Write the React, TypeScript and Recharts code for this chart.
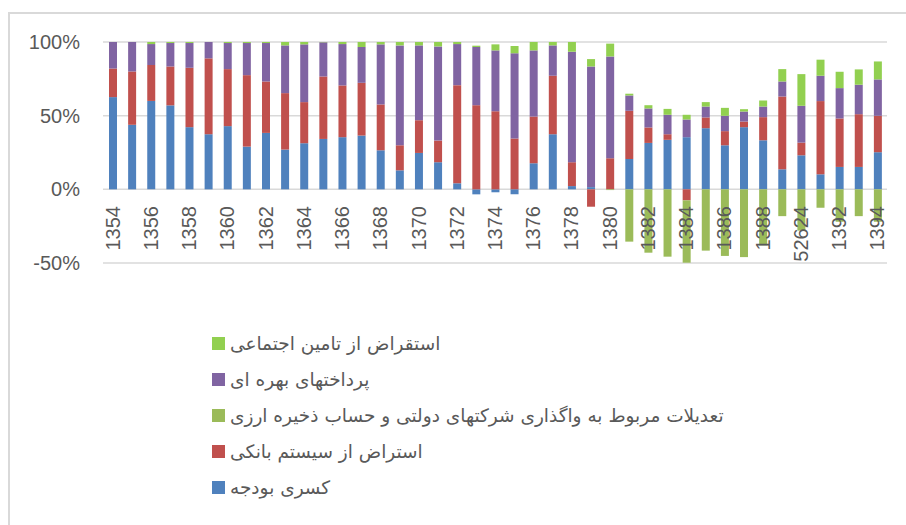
import React from 'react';
import { BarChart, Bar, XAxis, YAxis, CartesianGrid, Legend } from 'recharts';

// سال‌ها (1390 appears as 52624 in the source chart)
const years = [
  '1354', '1355', '1356', '1357', '1358', '1359', '1360', '1361', '1362', '1363',
  '1364', '1365', '1366', '1367', '1368', '1369', '1370', '1371', '1372', '1373',
  '1374', '1375', '1376', '1377', '1378', '1379', '1380', '1381', '1382', '1383',
  '1384', '1385', '1386', '1387', '1388', '1389', '52624', '1391', '1392', '1393',
  '1394',
];

// shares in percent
const budgetDeficit = [
  62.6, 43.8, 60, 57, 42.2, 37.4, 42.9, 29, 38.3, 27,
  31.3, 34.2, 35.4, 36.5, 26.5, 12.9, 24.7, 18.4, 4.1, -3.4,
  -2, -3.4, 17.7, 37.4, 2.2, 1.5, 0, 20.6, 31.5, 33.6,
  35.4, 41.5, 29.9, 42.2, 33.3, 13.6, 23.1, 10.2, 15.2, 15.2,
  25.2,
];
const bankBorrowing = [
  19.4, 36.2, 24.4, 26.4, 40.3, 51.5, 38.7, 48.5, 34.9, 38.3,
  27.9, 42.4, 35.1, 35.8, 31.1, 17, 22.2, 14.7, 66.6, 57.1,
  53, 34.5, 31.7, 39.7, 16.2, -11.8, 21.1, 32.7, 10.5, 3.8,
  -7.5, 7.3, 9.6, 3.8, 15.7, 49.4, 8.6, 49.7, 32.9, 35.8,
  24.7,
];
const adjustments = [
  0, 0, 0, 0, 0, 0, 0, 0, 0, 0,
  0, 0, 0, 0, 0, 0, 0, 0, 0, 0,
  0, 0, 0, 0, 0, 0, -0.5, -35.5, -43, -45.7,
  -42.3, -41.6, -45.2, -46, -38, -18.2, -28, -12.5, -22, -18.2,
  -22,
];
const interestPayments = [
  18, 20, 14.2, 15.9, 16.8, 11.1, 17.7, 21.8, 26.1, 32.4,
  39.2, 23.2, 28.1, 24.3, 40.8, 67.8, 50.8, 63.9, 27.9, 39.5,
  41.3, 57.8, 44.9, 20.6, 75, 81.9, 69.1, 10.4, 12.9, 13.2,
  12, 7.4, 10.4, 6.8, 7.2, 10.2, 25, 17.2, 20.6, 20,
  24.7,
];
const socialSecurity = [
  0, 0, 1.4, 0.7, 0.7, 0, 0.7, 0.7, 0.7, 2.3,
  1.6, 0.2, 1.4, 3.4, 1.6, 2.3, 2.3, 3, 1.4, 0.9,
  4.1, 5, 5.7, 2.3, 6.6, 5, 8.7, 1.2, 2.2, 4,
  3.2, 3, 5.4, 1.6, 4.1, 8.4, 21.5, 10.9, 11.1, 10.4,
  12.2,
];

const yTicks = [-50, 0, 50, 100];

const series = [
  { key: 'deficit', name: 'کسری بودجه', color: '#4F81BD' },
  { key: 'bank', name: 'استراض از سیستم بانکی', color: '#C0504D' },
  { key: 'adjust', name: 'تعدیلات مربوط به واگذاری شرکتهای دولتی و حساب ذخیره ارزی', color: '#9BBB59' },
  { key: 'interest', name: 'پرداختهای بهره ای', color: '#8064A2' },
  { key: 'social', name: 'استقراض از تامین اجتماعی', color: '#92D050' },
];

const data = years.map((label, i) => ({
  label,
  deficit: budgetDeficit[i],
  bank: bankBorrowing[i],
  adjust: adjustments[i],
  interest: interestPayments[i],
  social: socialSecurity[i],
}));

const axisFont = '"Liberation Sans", Arial, sans-serif';

const YearTick = (props: any) => {
  const { x, payload } = props;
  return (
    <text
      x={x}
      y={206}
      dy="0.35em"
      transform={`rotate(-90, ${x}, 206)`}
      textAnchor="end"
      fill="#595959"
      fontSize={20}
      fontFamily={axisFont}
    >
      {payload.value}
    </text>
  );
};

const LegendBox = () => (
  <div style={{ fontFamily: '"DejaVu Sans", sans-serif', fontSize: 18.5, color: '#595959' }}>
    {[...series].reverse().map(s => (
      <div key={s.key} style={{ display: 'flex', alignItems: 'center', height: 35.8 }}>
        <span style={{ width: 13, height: 13, background: s.color, marginRight: 5, flex: 'none' }} />
        <span dir="rtl" style={{ whiteSpace: 'nowrap' }}>{s.name}</span>
      </div>
    ))}
  </div>
);

export default function App() {
  return (
    <div style={{ position: 'absolute', left: 0, top: 0, width: 906, height: 525, background: '#fff', overflow: 'hidden' }}>
      <div
        style={{
          position: 'absolute',
          left: 8,
          top: 12,
          width: 940,
          height: 560,
          border: '2px solid #d9d9d9',
        }}
      />
      <div style={{ position: 'absolute', left: 0, top: 0 }}>
        <BarChart
          width={906}
          height={525}
          data={data}
          stackOffset="sign"
          barSize={8}
          margin={{ top: 42, right: 19, bottom: 232, left: 0 }}
        >
          <CartesianGrid vertical={false} stroke="#d9d9d9" strokeWidth={1.5} />
          <XAxis
            dataKey="label"
            interval={1}
            axisLine={false}
            tickLine={false}
            height={30}
            tick={<YearTick />}
          />
          <YAxis
            domain={[-50, 100]}
            ticks={yTicks}
            tickFormatter={(v: number) => `${v}%`}
            axisLine={false}
            tickLine={false}
            tickSize={0}
            tickMargin={23}
            width={103}
            tick={{ fill: '#595959', fontSize: 20, fontFamily: axisFont }}
          />
          <Legend
            layout="vertical"
            align="center"
            verticalAlign="middle"
            wrapperStyle={{ left: 212, top: 326, width: 640 }}
            content={() => <LegendBox />}
          />
          {series.map(s => (
            <Bar key={s.key} dataKey={s.key} name={s.name} stackId="a" fill={s.color} isAnimationActive={false} />
          ))}
        </BarChart>
      </div>
    </div>
  );
}
